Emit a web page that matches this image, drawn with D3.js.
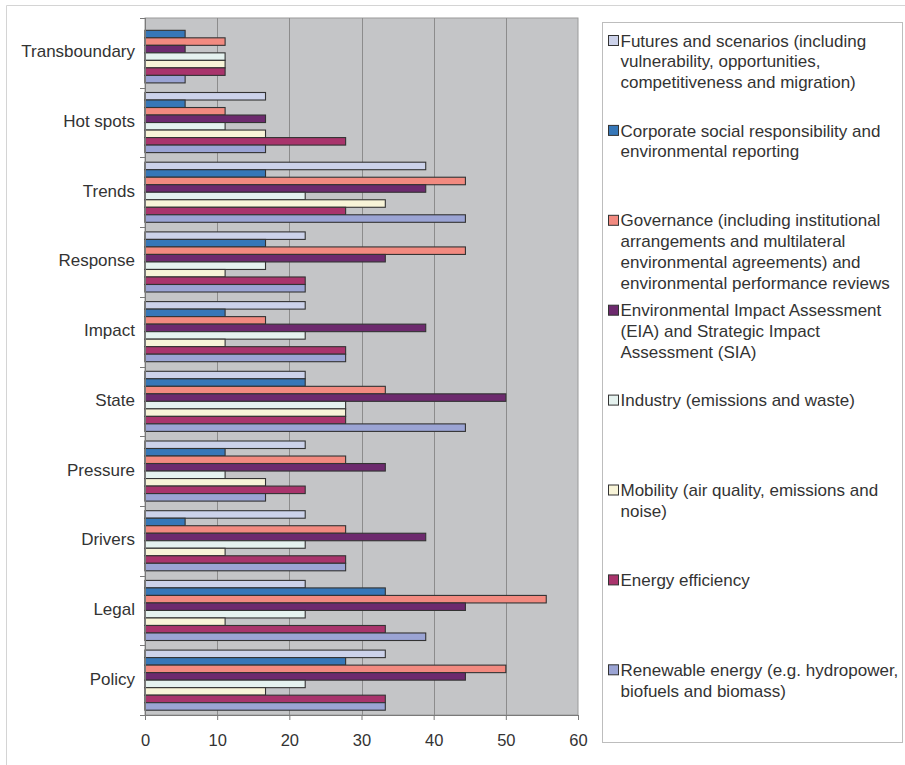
<!DOCTYPE html>
<html>
<head>
<meta charset="utf-8">
<script src="https://cdn.jsdelivr.net/npm/d3@7"></script>
<style>
  html, body { margin: 0; padding: 0; background: #fff; }
  svg { display: block; font-family: "Liberation Sans", Arial, Helvetica, sans-serif; }
</style>
</head>
<body>
<svg id="chart" width="905" height="765"></svg>
<script>
// ---- data ----
const categories = ["Transboundary", "Hot spots", "Trends", "Response", "Impact", "State", "Pressure", "Drivers", "Legal", "Policy"];
const seriesNames = ["Futures", "Corporate", "Governance", "EIA", "Industry", "Mobility", "Energy efficiency", "Renewable energy"];
const legendLines = [
  ["Futures and scenarios (including", "vulnerability, opportunities,", "competitiveness and migration)"],
  ["Corporate social responsibility and", "environmental reporting"],
  ["Governance (including institutional", "arrangements and multilateral", "environmental agreements) and", "environmental performance reviews"],
  ["Environmental Impact Assessment", "(EIA) and Strategic Impact", "Assessment (SIA)"],
  ["Industry (emissions and waste)"],
  ["Mobility (air quality, emissions and", "noise)"],
  ["Energy efficiency"],
  ["Renewable energy (e.g. hydropower,", "biofuels and biomass)"]
];
const seriesColors = ["#ccd2ea", "#3677b8", "#f28a80", "#6d2a6e", "#e5f2ef", "#f8f4d8", "#a9346c", "#9ba4d4"];
// values per series, in category order
const futures    = [0,    16.7, 38.9, 22.2, 22.2, 22.2, 22.2, 22.2, 22.2, 33.3];
const corporate  = [5.56, 5.56, 16.7, 16.7, 11.1, 22.2, 11.1, 5.56, 33.3, 27.8];
const governance = [11.1, 11.1, 44.4, 44.4, 16.7, 33.3, 27.8, 27.8, 55.6, 50.0];
const eia        = [5.56, 16.7, 38.9, 33.3, 38.9, 50.0, 33.3, 38.9, 44.4, 44.4];
const industry   = [11.1, 11.1, 22.2, 16.7, 22.2, 27.8, 11.1, 22.2, 22.2, 22.2];
const mobility   = [11.1, 16.7, 33.3, 11.1, 11.1, 27.8, 16.7, 11.1, 11.1, 16.7];
const energyEff  = [11.1, 27.8, 27.8, 22.2, 27.8, 27.8, 22.2, 27.8, 33.3, 33.3];
const renewable  = [5.56, 16.7, 44.4, 22.2, 27.8, 44.4, 16.7, 27.8, 38.9, 33.3];
const seriesValues = [futures, corporate, governance, eia, industry, mobility, energyEff, renewable];
const xTicks = [0, 10, 20, 30, 40, 50, 60];

// ---- layout ----
const svg = d3.select("#chart");
const plot = { left: 145, right: 578, top: 18, bottom: 715 };

// outer frame
svg.append("path").attr("d", "M6.5,765 V5.5 H905").attr("fill", "none").attr("stroke", "#d4d4d4").attr("stroke-width", 1);

const x = d3.scaleLinear().domain([0, 60]).range([plot.left, plot.right]);
const y0 = d3.scaleBand().domain(categories).range([plot.top, plot.bottom]).padding(0);
const gap = 4.8;
const y1 = d3.scaleBand().domain(seriesNames).range([gap, y0.bandwidth() - gap]).padding(0);

// plot background
svg.append("rect").attr("x", plot.left).attr("y", plot.top)
  .attr("width", plot.right - plot.left).attr("height", plot.bottom - plot.top)
  .attr("fill", "#c4c5c7").attr("stroke", "#9a9a9a").attr("stroke-width", 1);

// gridlines
svg.append("g").selectAll("line").data(xTicks.filter(t => t > 0 && t < 60)).join("line")
  .attr("x1", d => Math.round(x(d)) + 0.5).attr("x2", d => Math.round(x(d)) + 0.5)
  .attr("y1", plot.top).attr("y2", plot.bottom)
  .attr("stroke", "#8c8c8c").attr("stroke-width", 1);

// bars
const groups = svg.append("g").selectAll("g").data(categories).join("g")
  .attr("transform", d => `translate(0,${y0(d)})`);
groups.selectAll("rect").data((c, ci) => seriesNames.map((s, si) => ({ s, si, v: seriesValues[si][ci] })).filter(d => d.v > 0))
  .join("rect")
  .attr("x", x(0))
  .attr("y", d => y1(d.s))
  .attr("width", d => x(d.v) - x(0))
  .attr("height", y1.bandwidth())
  .attr("fill", d => seriesColors[d.si])
  .attr("stroke", "#333").attr("stroke-width", 1.1);

// x axis
const xAxis = d3.axisBottom(x).tickValues(xTicks).tickSize(5).tickPadding(14).tickSizeOuter(0);
const gx = svg.append("g").attr("transform", `translate(0,${plot.bottom})`).call(xAxis);
gx.select(".domain").attr("stroke", "#7a7a7a");
gx.selectAll(".tick line").attr("stroke", "#7a7a7a");
gx.selectAll(".tick text").attr("font-size", 16.5).attr("fill", "#333").attr("font-family", "Liberation Sans, Arial, sans-serif");

// y axis (category separators as ticks)
const boundaries = categories.map(c => y0(c)).concat([plot.bottom]);
svg.append("line").attr("x1", plot.left + 0.5).attr("x2", plot.left + 0.5).attr("y1", plot.top).attr("y2", plot.bottom).attr("stroke", "#7a7a7a");
svg.append("g").selectAll("line").data(boundaries).join("line")
  .attr("x1", plot.left - 5).attr("x2", plot.left).attr("y1", d => Math.round(d) + 0.5).attr("y2", d => Math.round(d) + 0.5)
  .attr("stroke", "#7a7a7a");
svg.append("g").selectAll("text").data(categories).join("text")
  .attr("x", 135).attr("y", d => y0(d) + y0.bandwidth() / 2)
  .attr("text-anchor", "end").attr("dominant-baseline", "middle")
  .attr("font-size", 17).attr("fill", "#333")
  .text(d => d);

// legend
const legendBox = { x: 602.5, y: 22.5, w: 300, h: 720 };
svg.append("rect").attr("x", legendBox.x).attr("y", legendBox.y).attr("width", legendBox.w).attr("height", legendBox.h)
  .attr("fill", "#fff").attr("stroke", "#bdbdbd").attr("stroke-width", 1);
const leg = svg.append("g").selectAll("g").data(seriesNames).join("g")
  .attr("transform", (d, i) => `translate(${legendBox.x + 6},${40.5 + i * 89.9})`);
leg.append("rect").attr("x", 0).attr("y", -5).attr("width", 10).attr("height", 10)
  .attr("fill", (d, i) => seriesColors[i]).attr("stroke", "#333").attr("stroke-width", 1);
leg.append("text").attr("x", 12).attr("y", 0).attr("font-size", 17).attr("fill", "#333")
  .selectAll("tspan").data((d, i) => legendLines[i]).join("tspan")
  .attr("x", 12).attr("dy", (d, j) => j === 0 ? "0.36em" : 20.8)
  .text(d => d);
</script>
</body>
</html>
